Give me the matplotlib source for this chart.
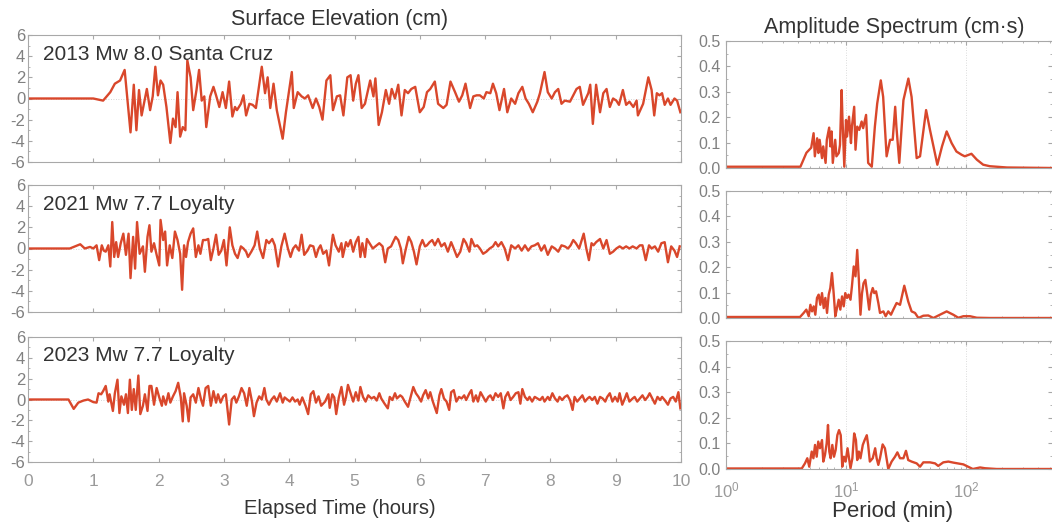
import numpy as np
import matplotlib
matplotlib.use("Agg")
import matplotlib.pyplot as plt
from matplotlib.ticker import MultipleLocator, LogLocator, NullFormatter

plt.rcParams['font.family'] = ['Liberation Sans', 'DejaVu Sans']
plt.rcParams['axes.unicode_minus'] = False

# ---------------- time series data (hours, cm) ----------------
t_2013 = [0.0, 1.0, 1.15, 1.26, 1.33, 1.41, 1.48, 1.57, 1.62, 1.66, 1.70, 1.74, 1.82, 1.87, 1.91, 1.95, 1.99,
          2.03, 2.07, 2.12, 2.18, 2.22, 2.26, 2.29, 2.33, 2.37, 2.41, 2.44, 2.49, 2.53, 2.58, 2.62, 2.66, 2.70,
          2.73, 2.79, 2.84, 2.88, 2.93, 2.98, 3.03, 3.08, 3.13, 3.17, 3.20, 3.26, 3.30, 3.34, 3.39, 3.44, 3.49,
          3.58, 3.63, 3.67, 3.71, 3.76, 3.81, 3.90, 3.95, 4.04, 4.07, 4.13, 4.19, 4.24, 4.29, 4.36, 4.41, 4.46,
          4.51, 4.57, 4.63, 4.67, 4.73, 4.78, 4.83, 4.89, 4.94, 4.98, 5.02, 5.06, 5.11, 5.16, 5.21, 5.24, 5.29,
          5.32, 5.37, 5.42, 5.48, 5.53, 5.57, 5.62, 5.67, 5.72, 5.77, 5.82, 5.87, 5.93, 6.00, 6.06, 6.11, 6.16,
          6.23, 6.28, 6.36, 6.41, 6.47, 6.54, 6.60, 6.65, 6.70, 6.77, 6.82, 6.87, 6.92, 6.98, 7.02, 7.08, 7.12,
          7.17, 7.22, 7.29, 7.34, 7.40, 7.46, 7.51, 7.57, 7.62, 7.67, 7.73, 7.80, 7.84, 7.91, 7.96, 8.02, 8.07,
          8.12, 8.17, 8.22, 8.30, 8.35, 8.40, 8.45, 8.50, 8.58, 8.61, 8.65, 8.70, 8.76, 8.81, 8.86, 8.91, 8.96,
          9.01, 9.05, 9.11, 9.16, 9.21, 9.27, 9.32, 9.34, 9.42, 9.50, 9.55, 9.59, 9.63, 9.67, 9.71, 9.75, 9.80,
          9.84, 9.90, 9.94, 9.99]
h_2013 = [0.0, 0.0, -0.2, 0.6, 1.4, 1.7, 2.7, -3.2, 1.3, -3.0, 0.8, -1.6, 0.9, -1.1, 0.2, 3.0, 0.3,
          1.7, 1.3, -0.8, -4.2, -1.9, -2.7, 0.6, -3.6, -2.7, -3.0, 3.6, 2.0, -1.1, 0.8, 2.7, -0.2, 0.2,
          -2.7, 0.2, 1.1, 0.3, -0.8, 0.6, -0.9, 1.6, -1.7, -0.8, -1.1, -0.5, 0.3, -1.6, -0.5, -0.6, -0.9,
          3.0, 0.5, 2.0, -0.9, 1.4, -1.1, -3.8, -1.3, 2.5, -0.9, 0.6, 0.2, 0.0, 0.3, -0.9, 0.0, -0.8,
          -2.0, 1.7, 2.2, -1.1, 0.2, 0.3, -1.6, 2.0, 2.2, -0.2, 1.4, 2.2, -0.9, -0.5, 0.9, 1.7, 0.2,
          1.9, -2.5, -1.3, 0.8, -0.5, 0.9, 0.0, 1.3, -1.6, 0.8, 0.5, 0.9, 1.1, -1.3, -0.8, 0.6, 0.9,
          1.6, -0.5, -0.9, -0.6, 1.6, 0.6, -0.3, 0.3, 1.4, -0.9, 0.2, 0.3, 0.3, 0.0, 0.6, 0.5, 1.4,
          0.5, -1.1, 0.9, -1.3, 0.0, -0.5, 0.5, 1.1, 0.0, -0.5, -1.3, -0.3, 0.5, 2.5, 0.6, 0.0, 0.6,
          0.9, -0.5, -0.2, -0.3, 0.3, 0.9, 1.1, -0.6, 0.5, 1.3, -2.4, 1.3, -1.3, 0.5, 0.9, -0.8, 0.0,
          -0.2, -0.6, 0.8, -0.6, -0.3, -0.8, -0.2, -1.6, -0.5, 2.0, 0.8, -1.6, 0.5, 0.3, 0.5, -0.6, 0.0,
          -0.6, 0.0, -0.2, -1.3]

t_2021 = [0.0, 0.64, 0.80, 0.87, 0.95, 1.00, 1.05, 1.09, 1.13, 1.16, 1.19, 1.23, 1.26, 1.29, 1.32, 1.35,
          1.38, 1.42, 1.46, 1.50, 1.54, 1.57, 1.61, 1.64, 1.67, 1.71, 1.76, 1.79, 1.83, 1.86, 1.89, 1.93,
          1.97, 2.01, 2.03, 2.07, 2.10, 2.13, 2.17, 2.21, 2.25, 2.29, 2.33, 2.36, 2.39, 2.42, 2.45, 2.49,
          2.53, 2.57, 2.61, 2.64, 2.68, 2.72, 2.76, 2.80, 2.84, 2.88, 2.92, 2.96, 3.00, 3.04, 3.09, 3.13,
          3.17, 3.21, 3.26, 3.30, 3.34, 3.37, 3.42, 3.47, 3.51, 3.55, 3.60, 3.65, 3.69, 3.74, 3.78, 3.83,
          3.88, 3.93, 3.98, 4.02, 4.06, 4.10, 4.15, 4.19, 4.23, 4.28, 4.32, 4.37, 4.41, 4.45, 4.48, 4.52,
          4.57, 4.61, 4.66, 4.67, 4.71, 4.76, 4.80, 4.82, 4.87, 4.90, 4.94, 4.98, 5.02, 5.06, 5.09, 5.12,
          5.16, 5.19, 5.23, 5.28, 5.34, 5.38, 5.43, 5.47, 5.51, 5.56, 5.59, 5.63, 5.67, 5.71, 5.74, 5.78,
          5.83, 5.87, 5.91, 5.95, 6.00, 6.04, 6.08, 6.11, 6.15, 6.19, 6.23, 6.28, 6.33, 6.38, 6.43, 6.48,
          6.52, 6.57, 6.62, 6.67, 6.71, 6.76, 6.79, 6.84, 6.88, 6.92, 6.97, 7.02, 7.07, 7.12, 7.16, 7.20,
          7.25, 7.30, 7.35, 7.40, 7.46, 7.51, 7.56, 7.61, 7.66, 7.71, 7.76, 7.81, 7.86, 7.91, 7.96, 8.02,
          8.07, 8.12, 8.17, 8.22, 8.27, 8.31, 8.35, 8.39, 8.44, 8.48, 8.51, 8.55, 8.59, 8.63, 8.66, 8.70,
          8.76, 8.81, 8.86, 8.91, 8.96, 9.01, 9.06, 9.11, 9.16, 9.21, 9.26, 9.32, 9.37, 9.41, 9.46, 9.51,
          9.55, 9.60, 9.65, 9.70, 9.75, 9.80, 9.85, 9.90, 9.94, 9.98]
h_2021 = [0.0, 0.0, 0.4, 0.0, 0.15, 0.0, 0.3, -1.1, 0.3, -0.2, -0.3, 0.3, -1.7, 2.5, -0.8, 0.6,
          -0.8, 0.5, 1.4, -0.6, 1.4, -2.8, 1.1, -1.9, 2.5, -0.5, 0.2, -2.2, 1.1, 2.2, -0.3, 0.5,
          -0.6, -1.6, 2.7, 0.8, 1.6, -1.6, 0.3, -0.9, 1.6, 0.8, -0.5, -3.9, 0.3, -0.8, 0.6, 1.4,
          1.9, -0.8, 0.3, -0.5, 0.8, 0.8, 0.9, -1.1, 0.0, 1.3, -0.6, -0.2, 0.8, -1.6, 2.0, 0.3,
          -0.5, -0.9, 0.2, 0.0, -0.3, -0.8, -0.3, 0.3, 1.6, 0.0, -0.9, 0.8, 0.5, 0.9, 0.3, -1.7,
          0.2, 1.4, 0.0, -0.8, 0.0, 0.3, -0.2, 1.3, -0.6, -0.2, 0.3, 0.2, -0.8, 0.0, 0.3, -0.5,
          -0.2, -1.6, 0.9, 1.3, 0.3, -0.3, 0.5, -0.8, 0.6, 0.2, 0.8, -0.3, 0.6, 1.1, -0.8, 0.5,
          -0.8, 0.9, 0.5, 0.0, 0.3, 0.5, 0.2, -1.3, 0.0, 0.2, 0.6, 1.1, 0.8, 0.0, -1.4, -0.2,
          1.1, 0.6, -0.3, -1.5, 0.2, 0.8, 0.2, 0.3, 0.6, 0.8, 0.3, 0.9, 0.2, 0.5, -0.3, 0.6,
          0.0, -0.8, -0.3, 0.9, 0.5, -0.3, 0.9, 0.2, 0.3, 0.0, -0.5, -0.3, 0.0, 0.2, 0.6, 0.2,
          0.6, 0.0, -1.1, 0.3, 0.0, 0.3, -0.2, 0.3, -0.2, 0.2, 0.3, 0.5, -0.2, 0.3, -0.6, 0.2,
          0.0, -0.3, 0.3, 0.2, 0.0, 0.3, 0.8, 0.5, 0.0, 0.8, 1.4, 0.0, -1.1, 0.5, 0.3, 0.6,
          0.9, 0.0, 0.8, -0.5, -0.3, 0.0, 0.2, 0.0, 0.2, 0.0, 0.2, 0.0, 0.3, 0.3, -1.1, 0.3,
          0.0, 0.2, -0.3, 0.5, 0.6, -1.3, 0.2, -0.2, -0.8, 0.2]

t_2023 = [0.0, 0.62, 0.70, 0.77, 0.85, 0.92, 1.00, 1.05, 1.08, 1.12, 1.15, 1.19, 1.23, 1.25, 1.30, 1.33,
          1.37, 1.40, 1.43, 1.47, 1.50, 1.53, 1.56, 1.59, 1.62, 1.65, 1.69, 1.72, 1.76, 1.79, 1.83, 1.86,
          1.89, 1.93, 1.97, 2.01, 2.05, 2.07, 2.11, 2.15, 2.18, 2.22, 2.26, 2.30, 2.34, 2.37, 2.39, 2.43,
          2.46, 2.49, 2.53, 2.57, 2.61, 2.65, 2.68, 2.72, 2.76, 2.80, 2.84, 2.88, 2.91, 2.95, 2.99, 3.03,
          3.08, 3.12, 3.16, 3.19, 3.23, 3.27, 3.31, 3.35, 3.39, 3.43, 3.46, 3.50, 3.54, 3.58, 3.62, 3.65,
          3.69, 3.73, 3.77, 3.81, 3.86, 3.90, 3.93, 3.97, 4.01, 4.05, 4.09, 4.13, 4.16, 4.20, 4.25, 4.29,
          4.33, 4.37, 4.41, 4.45, 4.49, 4.55, 4.60, 4.62, 4.66, 4.69, 4.72, 4.76, 4.80, 4.84, 4.87, 4.90,
          4.94, 4.98, 5.02, 5.06, 5.09, 5.13, 5.17, 5.21, 5.26, 5.30, 5.34, 5.38, 5.41, 5.46, 5.51, 5.54,
          5.58, 5.62, 5.65, 5.70, 5.73, 5.77, 5.82, 5.86, 5.90, 5.94, 5.98, 6.02, 6.05, 6.09, 6.13, 6.16,
          6.20, 6.26, 6.30, 6.33, 6.37, 6.41, 6.45, 6.48, 6.52, 6.56, 6.60, 6.64, 6.68, 6.71, 6.76, 6.79,
          6.82, 6.86, 6.89, 6.93, 6.97, 7.01, 7.05, 7.08, 7.12, 7.16, 7.20, 7.24, 7.28, 7.31, 7.35, 7.39,
          7.43, 7.47, 7.51, 7.54, 7.57, 7.61, 7.65, 7.68, 7.72, 7.76, 7.80, 7.84, 7.88, 7.91, 7.96, 7.99,
          8.03, 8.07, 8.11, 8.14, 8.18, 8.22, 8.26, 8.30, 8.34, 8.37, 8.41, 8.45, 8.49, 8.53, 8.57, 8.60,
          8.64, 8.68, 8.72, 8.76, 8.80, 8.84, 8.87, 8.91, 8.95, 8.99, 9.03, 9.06, 9.10, 9.14, 9.17, 9.21,
          9.26, 9.29, 9.33, 9.37, 9.41, 9.45, 9.49, 9.52, 9.56, 9.60, 9.64, 9.68, 9.71, 9.75, 9.80, 9.84,
          9.88, 9.92, 9.96, 9.99]
h_2023 = [0.0, 0.0, -0.9, -0.3, -0.1, 0.0, -0.25, -0.3, 0.6, 0.5, 0.8, 1.3, -0.2, 0.5, -1.1, 0.6,
          1.9, -1.3, 0.3, -0.5, 0.5, -1.3, 1.9, -1.0, 1.0, -1.0, 2.3, -1.4, -0.6, 0.5, -1.1, 1.3,
          1.3, -0.5, 1.1, 0.2, -0.6, 0.3, -0.5, 0.6, -0.3, 0.3, 0.8, 1.6, 0.2, -2.1, 0.6, -0.6,
          -2.1, 0.2, 0.5, -0.3, 1.1, 0.0, -0.6, 1.1, 1.3, -0.6, 0.8, -0.3, 0.5, -0.3, 0.3, 0.5,
          -2.4, 0.0, 0.3, -0.3, 0.3, 1.1, 0.6, -0.6, 1.1, -0.2, -1.6, -0.3, 0.3, 0.0, 1.1, 0.0,
          -0.5, 0.0, 0.3, -0.2, 0.6, -0.3, 0.2, 0.0, -0.2, 0.2, -0.2, 0.0, -0.5, 0.2, -0.6, -1.4,
          0.5, 0.8, -0.3, 0.3, -0.6, -0.2, 0.5, -0.8, 0.5, 0.2, -1.4, 0.2, 1.2, -0.5, 0.25, 1.4,
          0.6, -0.2, 0.7, -0.1, 1.2, 0.25, -0.2, 0.4, 0.1, 0.25, -0.1, 0.6, 0.1, -0.4, -0.85, 0.25,
          -0.05, 0.6, 0.1, 0.4, 0.25, -0.2, -0.7, 0.25, 1.2, 0.6, 0.25, -0.2, 0.4, 0.9, 0.1, 0.7,
          -0.2, -1.3, 0.4, 1.0, 0.1, -0.2, -1.0, 0.7, 0.9, -0.2, 0.25, 0.1, 0.4, -0.05, 0.6, 0.9,
          -0.2, 0.4, -0.2, 0.7, 0.25, -0.2, 0.25, 0.4, -0.05, 0.6, 0.25, 0.6, -0.85, 0.25, 0.7, -0.05,
          0.25, 0.6, 0.7, -0.4, 1.0, 0.25, -0.05, 0.25, -0.2, 0.25, 0.1, -0.05, 0.25, -0.2, 0.25, -0.05,
          0.6, 0.1, -0.2, 0.25, -0.05, 0.25, 0.4, -0.05, -1.0, 0.25, -0.2, 0.1, 0.4, -0.2, 0.1, 0.25,
          -0.05, 0.25, -0.4, 0.25, 0.1, -0.2, 0.25, 0.6, -0.2, 0.25, -0.2, 0.6, -0.5, 0.1, 0.6, -0.2,
          0.1, 0.25, -0.2, 0.1, 0.4, -0.05, 0.25, 0.6, 0.1, -0.4, 0.25, -0.05, 0.25, -0.05, -0.5, 0.1,
          0.25, -0.2, 0.7, -0.85]

# ---------------- amplitude spectra (period min, cm*s) ----------------
p_2013 = [1.0, 4.17, 4.68, 4.90, 5.13, 5.37, 5.50, 5.75, 5.89, 6.03, 6.31, 6.46, 6.76, 6.92, 7.24, 7.41,
          7.59, 7.76, 8.13, 8.32, 8.71, 8.91, 9.20, 9.33, 9.68, 10.0, 10.2, 10.6, 11.0, 11.2, 11.7, 12.0,
          12.4, 12.9, 13.5, 13.9, 14.7, 15.3, 16.4, 17.4, 18.2, 19.5, 20.4, 21.8, 23.3, 24.5, 25.7, 26.3,
          27.8, 30.1, 33.1, 35.2, 38.8, 41.4, 46.5, 50.1, 57.7, 63.1, 69.0, 75.9, 83.2, 92.0, 97.7, 111,
          123, 139, 158, 219, 525]
a_2013 = [0.005, 0.005, 0.06, 0.07, 0.08, 0.137, 0.046, 0.117, 0.059, 0.111, 0.039, 0.085, 0.02, 0.111,
          0.159, 0.085, 0.144, 0.02, 0.111, 0.046, 0.059, 0.091, 0.307, 0.202, 0.005, 0.189, 0.124, 0.202,
          0.098, 0.163, 0.241, 0.072, 0.163, 0.15, 0.183, 0.157, 0.209, 0.02, 0.005, 0.163, 0.254, 0.345,
          0.28, 0.046, 0.111, 0.111, 0.241, 0.163, 0.02, 0.267, 0.352, 0.28, 0.039, 0.046, 0.228, 0.15,
          0.013, 0.085, 0.144, 0.098, 0.065, 0.052, 0.046, 0.056, 0.033, 0.013, 0.007, 0.002, 0.0]

p_2021 = [1.0, 4.14, 4.44, 4.67, 4.89, 5.05, 5.21, 5.38, 5.55, 5.73, 5.92, 6.11, 6.31, 6.52, 6.73, 6.95,
          7.18, 7.40, 7.64, 7.89, 8.15, 8.41, 8.69, 8.97, 9.27, 9.57, 9.86, 10.2, 10.5, 10.9, 11.2, 11.6,
          12.0, 12.4, 12.8, 13.2, 13.6, 14.0, 14.5, 15.0, 15.6, 16.1, 16.7, 17.2, 17.8, 18.6, 19.2, 20.5,
          21.4, 22.5, 23.7, 24.8, 26.4, 28.2, 30.6, 33.0, 35.2, 37.6, 40.1, 44.1, 48.5, 53.5, 60.7, 69.0,
          78.3, 86.3, 95.1, 108, 123, 158, 525]
a_2021 = [0.004, 0.004, 0.02, 0.033, 0.007, 0.052, 0.026, 0.046, 0.013, 0.079, 0.092, 0.052, 0.098, 0.039,
          0.079, 0.02, 0.092, 0.118, 0.177, 0.098, 0.007, 0.039, 0.072, 0.033, 0.085, 0.046, 0.098, 0.079,
          0.092, 0.072, 0.124, 0.203, 0.164, 0.268, 0.15, 0.013, 0.098, 0.137, 0.15, 0.098, 0.033, 0.092,
          0.118, 0.098, 0.105, 0.059, 0.02, 0.026, 0.007, 0.026, 0.013, 0.033, 0.059, 0.052, 0.127, 0.065,
          0.026, 0.02, 0.0, 0.009, 0.01, 0.0, 0.013, 0.026, 0.013, 0.001, 0.007, 0.007, 0.001, 0.0, 0.0]

p_2023 = [1.0, 4.28, 4.55, 4.76, 4.94, 5.18, 5.35, 5.52, 5.70, 5.87, 6.07, 6.31, 6.47, 6.68, 6.90, 7.08,
          7.26, 7.45, 7.69, 7.94, 8.20, 8.47, 8.75, 9.04, 9.31, 9.62, 9.93, 10.3, 10.6, 10.9, 11.3, 11.7,
          12.1, 12.4, 12.8, 13.2, 13.8, 14.3, 14.9, 15.3, 15.8, 16.7, 17.5, 18.0, 18.6, 19.2, 20.2, 21.1,
          22.5, 24.0, 25.6, 26.8, 28.2, 30.1, 31.6, 33.0, 35.2, 38.8, 41.4, 44.1, 50.1, 55.2, 58.7, 64.7,
          71.3, 78.3, 95.1, 104, 114, 131, 144, 180, 525]
a_2023 = [0.002, 0.002, 0.022, 0.042, 0.009, 0.068, 0.042, 0.094, 0.048, 0.107, 0.081, 0.113, 0.029, 0.055,
          0.1, 0.172, 0.068, 0.042, 0.094, 0.048, 0.074, 0.132, 0.152, 0.132, 0.009, 0.048, 0.029, 0.081,
          0.042, 0.003, 0.042, 0.139, 0.113, 0.035, 0.068, 0.042, 0.094, 0.113, 0.132, 0.094, 0.029, 0.042,
          0.081, 0.042, 0.016, 0.042, 0.096, 0.081, 0.0, 0.029, 0.048, 0.065, 0.042, 0.042, 0.071, 0.035,
          0.029, 0.022, 0.009, 0.026, 0.026, 0.022, 0.012, 0.026, 0.029, 0.025, 0.018, 0.009, 0.0, 0.006,
          0.003, 0.0, 0.0]

labels = ["2013 Mw 8.0 Santa Cruz", "2021 Mw 7.7 Loyalty", "2023 Mw 7.7 Loyalty"]
series_t = [t_2013, t_2021, t_2023]
series_h = [h_2013, h_2021, h_2023]
series_p = [p_2013, p_2021, p_2023]
series_a = [a_2013, a_2021, a_2023]

LINE = '#d9472b'
SPINE = '#a8a8a8'
TICKC = '#808080'
TEXTC = '#333333'

W, H = 1052, 524
fig = plt.figure(figsize=(W / 100, H / 100), dpi=100)


def px_rect(x0, y0, x1, y1):
    return [x0 / W, 1 - y1 / H, (x1 - x0) / W, (y1 - y0) / H]


left_rects = [(28, 35, 681, 162), (28, 185, 681, 312), (28, 337, 681, 462)]
right_rects = [(726, 41, 1052, 168), (726, 191, 1052, 318), (726, 341, 1052, 469)]


def style(ax):
    for s in ax.spines.values():
        s.set_color(SPINE)
        s.set_linewidth(0.8)
    ax.tick_params(which='both', direction='in', colors=SPINE, labelcolor=TICKC,
                   top=True, right=True, labelsize=12)
    ax.tick_params(which='major', length=3)
    ax.tick_params(which='minor', length=1.5)


for i in range(3):
    ax = fig.add_axes(px_rect(*left_rects[i]))
    ax.plot(series_t[i], series_h[i], color=LINE, lw=1.7, solid_joinstyle='round')
    ax.axhline(0, color='#c8c8c8', lw=0.6, ls=(0, (1, 2)), zorder=0)
    ax.set_xlim(0, 10)
    ax.set_ylim(-6, 6)
    ax.set_yticks([-6, -4, -2, 0, 2, 4, 6])
    ax.yaxis.set_minor_locator(MultipleLocator(1))
    ax.set_xticks(range(11))
    style(ax)
    ax.tick_params(axis='y', pad=2)
    if i < 2:
        ax.set_xticklabels([])
    else:
        ax.tick_params(axis='x', labelsize=12.5, pad=9, labelcolor='#9a9a9a')
    ax.text(0.23, 4.2, labels[i], fontsize=15, color=TEXTC, va='center', ha='left')

    axr = fig.add_axes(px_rect(*right_rects[i]))
    axr.plot(series_p[i], series_a[i], color=LINE, lw=1.7, solid_joinstyle='round')
    axr.set_xscale('log')
    axr.set_xlim(1, 10 ** ((1052 - 726) / 120))
    axr.set_ylim(0, 0.5)
    axr.set_yticks([0, 0.1, 0.2, 0.3, 0.4, 0.5])
    axr.set_yticklabels(['0.0', '0.1', '0.2', '0.3', '0.4', '0.5'])
    axr.yaxis.set_minor_locator(MultipleLocator(0.05))
    axr.xaxis.set_major_locator(LogLocator(base=10, numticks=10))
    axr.xaxis.set_minor_locator(LogLocator(base=10, subs=np.arange(2, 10), numticks=10))
    axr.xaxis.set_minor_formatter(NullFormatter())
    for xv in (10, 100):
        axr.axvline(xv, color='#d0d0d0', lw=0.6, ls=(0, (1, 2)), zorder=0)
    axr.axhline(0, color='#c8c8c8', lw=0.6, ls=(0, (1, 2)), zorder=0)
    style(axr)
    axr.spines['right'].set_visible(False)
    axr.tick_params(axis='y', labelsize=11.5, pad=4)
    if i < 2:
        axr.set_xticklabels([])
    else:
        axr.tick_params(axis='x', labelsize=12, pad=8, labelcolor='#9a9a9a')

fig.text(340 / W, 1 - 20 / H, "Surface Elevation (cm)", fontsize=15.5, color=TEXTC, ha='center', va='center')
fig.text(894 / W, 1 - 28 / H, "Amplitude Spectrum (cm\u00b7s)", fontsize=15.5, color=TEXTC, ha='center', va='center')
fig.text(340 / W, 1 - 508 / H, "Elapsed Time (hours)", fontsize=14.5, color=TEXTC, ha='center', va='center')
fig.text(893 / W, 1 - 511 / H, "Period (min)", fontsize=16, color=TEXTC, ha='center', va='center')

fig.savefig("out.png", dpi=100)
